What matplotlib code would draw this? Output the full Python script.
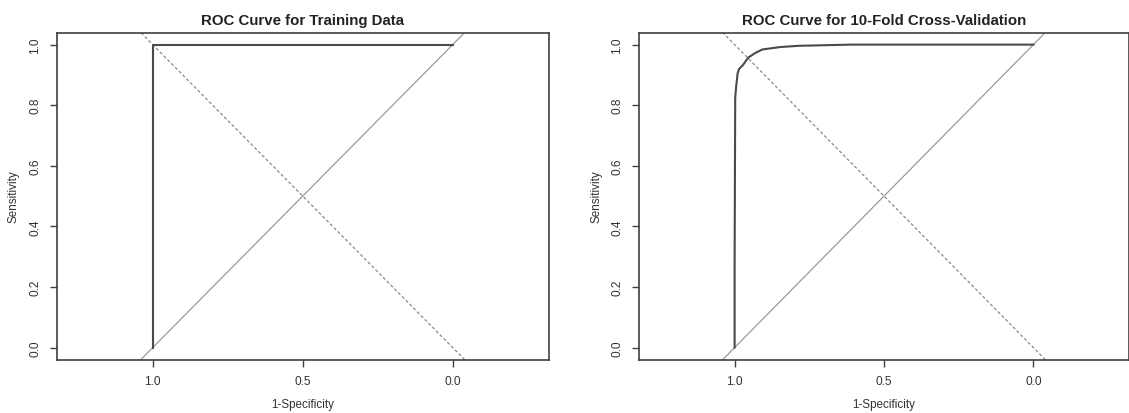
import matplotlib
matplotlib.use("Agg")
import matplotlib.pyplot as plt

plt.rcParams['font.family'] = ['Liberation Sans', 'DejaVu Sans']

titles = ["ROC Curve for Training Data", "ROC Curve for 10-Fold Cross-Validation"]
x_label = "1-Specificity"
y_label = "Sensitivity"
x_ticks = [1.0, 0.5, 0.0]
x_ticklabels = ["1.0", "0.5", "0.0"]
y_ticks = [0.0, 0.2, 0.4, 0.6, 0.8, 1.0]
y_ticklabels = ["0.0", "0.2", "0.4", "0.6", "0.8", "1.0"]

train_spec = [1.0, 1.0, 0.0]
train_sens = [0.0, 1.0, 1.0]

cv_spec = [1.0, 1.0, 0.998, 0.995, 0.99, 0.985, 0.9725, 0.9545, 0.93, 0.907, 0.847, 0.787, 0.70, 0.608, 0.0]
cv_sens = [0.0, 0.27, 0.824, 0.86, 0.905, 0.92, 0.932, 0.957, 0.973, 0.984, 0.992, 0.996, 0.998, 1.0, 1.0]

W, H = 1129, 414
fig = plt.figure(figsize=(W / 100, H / 100), dpi=100)

axes_px = [(56.7, 33.5, 548.7, 360.7), (639, 33.5, 1129, 360.7)]
curves = [(train_spec, train_sens), (cv_spec, cv_sens)]

dark = "#3f3f3f"
for (x0, y0, x1, y1), title, (sx, sy) in zip(axes_px, titles, curves):
    ax = fig.add_axes([x0 / W, 1 - y1 / H, (x1 - x0) / W, (y1 - y0) / H])
    ax.set_xlim(1.32, -0.32)
    ax.set_ylim(-0.04, 1.04)
    ax.axline((1, 0), (0, 1), color="#9a9a9a", lw=0.9, zorder=1)
    ax.axline((1, 1), (0, 0), color="#8a8a8a", lw=0.9, ls=(0, (2.5, 1.8)), zorder=1)
    ax.plot(sx, sy, color="#4a4a4a", lw=1.5, zorder=3, solid_joinstyle="round")
    ax.set_xticks(x_ticks)
    ax.set_xticklabels(x_ticklabels)
    ax.set_yticks(y_ticks)
    ax.set_yticklabels(y_ticklabels, rotation=90, va="center")
    ax.tick_params(direction="out", length=4.8, width=1.0, color=dark,
                   labelsize=8.6, labelcolor="#333333", pad=6.5)
    for s in ax.spines.values():
        s.set_color(dark)
        s.set_linewidth(1.2)
    ax.set_title(title, fontsize=10.8, fontweight="bold", color="#222222", pad=6)
    ax.set_xlabel(x_label, fontsize=8.4, color="#333333", labelpad=7.5)
    ax.set_ylabel(y_label, fontsize=8.4, color="#333333", labelpad=6.5)

fig.savefig("out.png", dpi=100)
